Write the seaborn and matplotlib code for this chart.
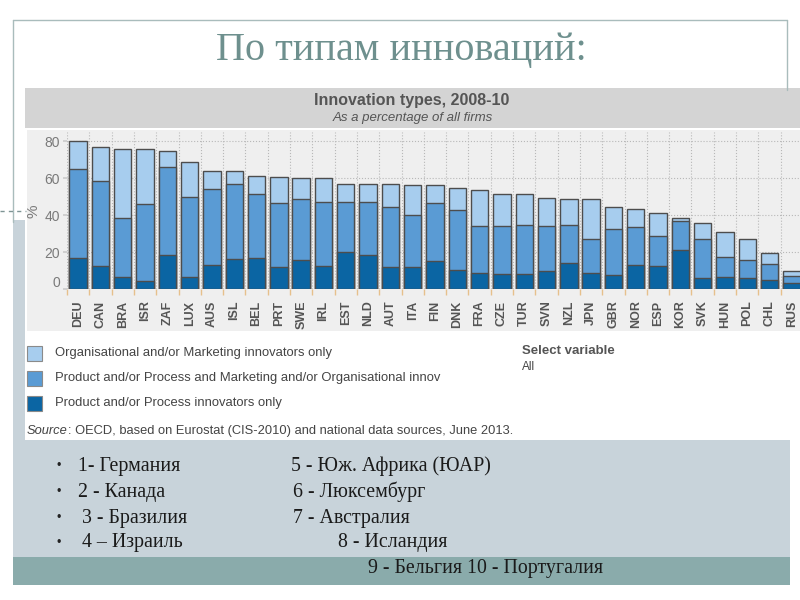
import matplotlib
matplotlib.use("Agg")
import matplotlib.pyplot as plt
import seaborn as sns
import numpy as np
import pandas as pd
from matplotlib.patches import Rectangle
from matplotlib.lines import Line2D

# ---------------- data ----------------
countries = ["DEU", "CAN", "BRA", "ISR", "ZAF", "LUX", "AUS", "ISL", "BEL", "PRT",
             "SWE", "IRL", "EST", "NLD", "AUT", "ITA", "FIN", "DNK", "FRA", "CZE",
             "TUR", "SVN", "NZL", "JPN", "GBR", "NOR", "ESP", "KOR", "SVK", "HUN",
             "POL", "CHL", "RUS"]
# Product and/or Process innovators only
prod_only = [17, 12.5, 6.5, 4.5, 18.5, 7, 13, 16.5, 17, 12,
             16, 12.5, 20, 18.5, 12, 12, 15.5, 10.5, 9, 8.5,
             8.5, 10, 14.5, 9, 8, 13, 12.5, 21.5, 6, 7,
             6, 5, 3.5]
# Product and/or Process and Marketing and/or Organisational
both = [48, 46, 32, 41.5, 47.5, 43, 41, 40.5, 34.5, 34.5,
        33, 34.5, 27, 28.5, 32.5, 28, 31, 32.5, 25.5, 26,
        26.5, 24.5, 20.5, 18.5, 24.5, 20.5, 16.5, 15.5, 21.5, 10.5,
        10, 9, 4]
# Organisational and/or Marketing innovators only
org_only = [15, 18.5, 37.5, 30, 8.5, 19, 10, 7, 10, 14,
            11, 13, 10, 10, 12.5, 16.5, 10, 12, 19, 17,
            16.5, 15, 14, 21.5, 12, 10, 12.5, 1.5, 8.5, 13.5,
            11.5, 5.5, 2.5]

y_ticks = [0, 20, 40, 60, 80]
legend_labels = ["Organisational and/or Marketing innovators only",
                 "Product and/or Process and Marketing and/or Organisational innov",
                 "Product and/or Process innovators only"]
slide_title = "По типам инноваций:"
chart_title = "Innovation types, 2008-10"
chart_subtitle = "As a percentage of all firms"
source_rest = ": OECD, based on Eurostat (CIS-2010) and national data sources, June 2013."
notes_left = ["1- Германия", "2 - Канада", "3 - Бразилия", "4 – Израиль"]
notes_right = ["5 - Юж. Африка (ЮАР)", "6 - Люксембург", "7 - Австралия", "8 - Исландия"]
note_last = "9 - Бельгия 10 - Португалия"

# ---------------- style ----------------
sns.set_theme(style="white")
plt.rcParams["font.family"] = ["Liberation Sans", "DejaVu Sans"]

C_LIGHT = "#a7cdee"
C_MID = "#5a9bd4"
C_DARK = "#0b65a3"
C_EDGE = "#4d4d4d"
PANEL = "#c8d3da"
TEAL = "#8aabab"
FRAME = "#a9bcbc"

W, H = 800, 600
fig = plt.figure(figsize=(8, 6), dpi=100)
fig.patch.set_facecolor("white")


def fx(x):
    return x / W


def fy(y):
    return 1 - y / H


def rect(x0, y0, x1, y1, color, z=-2, ec="none", lw=0):
    fig.add_artist(Rectangle((fx(x0), fy(y1)), (x1 - x0) / W, (y1 - y0) / H,
                             transform=fig.transFigure, facecolor=color,
                             edgecolor=ec, linewidth=lw, zorder=z))


def line(x0, y0, x1, y1, color, lw=1, ls="-", z=-1):
    fig.add_artist(Line2D([fx(x0), fx(x1)], [fy(y0), fy(y1)], transform=fig.transFigure,
                          color=color, lw=lw, ls=ls, zorder=z))


# slide decorations
line(13, 20, 787, 20, FRAME)
line(787, 20, 787, 90, FRAME)
line(13, 20, 13, 222, FRAME)
rect(13, 220, 26, 440, PANEL, z=-3)
rect(13, 440, 790, 557, PANEL, z=-3)
rect(13, 557, 790, 585, TEAL, z=-3)
line(0, 211, 26, 211, "#7f9595", lw=1, ls=(0, (3, 3)))

# chart image area
rect(25, 88, 800, 440, "white", z=-2)
rect(25, 88, 800, 128, "#d4d4d4", z=-2)
rect(27, 130, 800, 331, "#efefef", z=-2)

fig.text(fx(401), fy(51), slide_title, ha="center", va="center", fontsize=29,
         color="#6e908e", family=["Liberation Serif", "DejaVu Serif"])
fig.text(fx(412), fy(101), chart_title, ha="center", va="center", fontsize=11.5,
         color="#555555", fontweight="bold")
fig.text(fx(413), fy(118), chart_subtitle, ha="center", va="center", fontsize=9.5,
         color="#555555", style="italic")

# ---------------- bars ----------------
df = pd.DataFrame({"country": countries, "dark": prod_only, "mid_v": both, "light_v": org_only})
df["c_dark"] = df["dark"]
df["c_mid"] = df["dark"] + df["mid_v"]
df["c_total"] = df["c_mid"] + df["light_v"]

top_px, zero_px = 132.0, 289.5
ymax = 85
ax = fig.add_axes([fx(67), fy(zero_px), 736 / W, (zero_px - top_px) / H])
ax.set_facecolor("none")

for col, colr in [("c_total", C_LIGHT), ("c_mid", C_MID), ("c_dark", C_DARK)]:
    sns.barplot(data=df, x="country", y=col, order=countries, color=colr, saturation=1,
                edgecolor=C_EDGE, linewidth=1.0, width=0.78, ax=ax, zorder=3)

ax.set_xlim(-0.5, len(countries) - 0.5)
ax.set_ylim(0, ymax)
ax.set_xlabel("")
ax.set_ylabel("")
for s in ax.spines.values():
    s.set_visible(False)

ax.set_yticks(y_ticks)
ax.set_yticklabels(["" if v == 0 else str(v) for v in y_ticks])
ax.tick_params(axis="y", which="major", length=3, color="#cccccc", pad=2,
               labelsize=10, labelcolor="#7a7a7a", left=True)
ax.annotate("0", xy=(0, 0), xycoords=("axes fraction", "data"), xytext=(-5, 5),
            textcoords="offset points", ha="right", va="center", fontsize=10,
            color="#7a7a7a", annotation_clip=False)

ax.set_xticks(range(len(countries)))
ax.set_xticklabels(countries, rotation=90, fontsize=9, fontweight="bold", color="#555555")
ax.tick_params(axis="x", which="major", length=0, pad=8, bottom=True)
ax.set_xticks(np.arange(-0.5, len(countries), 1), minor=True)
ax.tick_params(axis="x", which="minor", length=4, color="#e6c08c", bottom=True, direction="out")

ax.set_axisbelow(True)
ax.grid(False)
ax.grid(axis="y", which="major", linestyle=":", color="#b8b8b8", lw=0.8)
ax.grid(axis="x", which="minor", linestyle=":", color="#b8b8b8", lw=0.8)

fig.text(fx(33), fy(211), "%", rotation=90, ha="center", va="center", fontsize=11, color="#7a7a7a")

# ---------------- legend ----------------
for i, (lab, colr) in enumerate(zip(legend_labels, [C_LIGHT, C_MID, C_DARK])):
    yc = 353 + 25 * i
    rect(27, yc - 7.5, 42, yc + 7.5, colr, z=2, ec="#8a8a8a", lw=0.8)
    fig.text(fx(55), fy(yc), lab, ha="left", va="center", fontsize=9.4, color="#444444")

fig.text(fx(522), fy(351), "Select variable", ha="left", va="center", fontsize=9.5,
         color="#555555", fontweight="bold")
fig.text(fx(522), fy(367), "All", ha="left", va="center", fontsize=8.5, color="#444444")

src = fig.text(fx(27), fy(431), "Source", ha="left", va="center", fontsize=9.3,
               color="#444444", style="italic")
fig.canvas.draw()
bb = src.get_window_extent(renderer=fig.canvas.get_renderer())
fig.text(bb.x1 / (fig.dpi * 8), fy(431), source_rest, ha="left", va="center",
         fontsize=9.3, color="#444444")

# ---------------- notes ----------------
serif = ["Liberation Serif", "DejaVu Serif"]
rows_y = [466, 492, 518, 543]
left_x = [78, 78, 82, 82]
right_x = [291, 293, 293, 338]
for i in range(4):
    fig.text(fx(59), fy(rows_y[i]), "•", ha="center", va="center", fontsize=9, color="#222222")
    fig.text(fx(left_x[i]), fy(rows_y[i]), notes_left[i], ha="left", va="center",
             fontsize=14.3, color="#1a1a1a", family=serif)
    fig.text(fx(right_x[i]), fy(rows_y[i]), notes_right[i], ha="left", va="center",
             fontsize=14.3, color="#1a1a1a", family=serif)
fig.text(fx(368), fy(568), note_last, ha="left", va="center", fontsize=14.3,
         color="#1a1a1a", family=serif)

fig.savefig("out.png", dpi=100, facecolor="white")
